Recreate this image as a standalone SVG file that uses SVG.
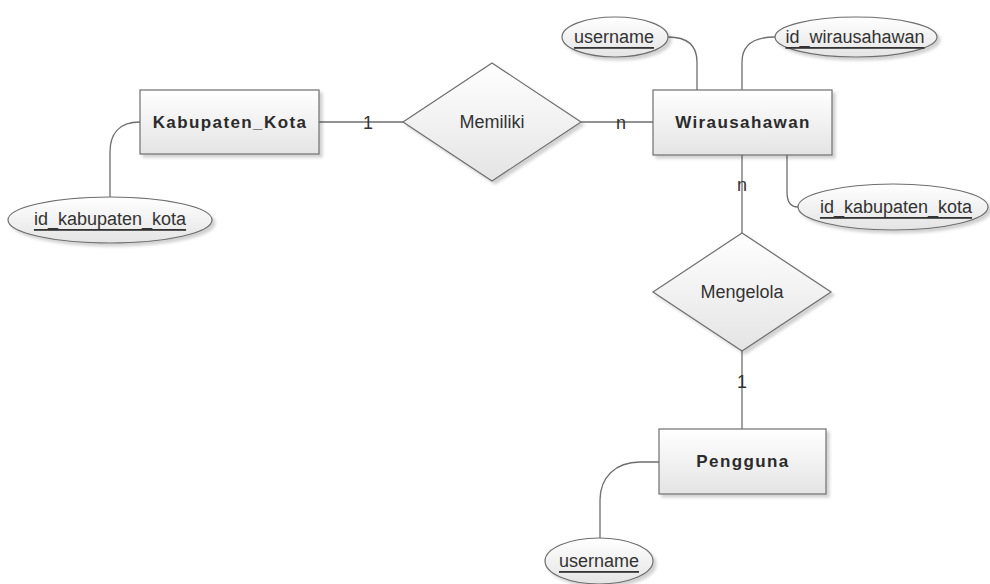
<svg xmlns="http://www.w3.org/2000/svg" width="990" height="584" viewBox="0 0 990 584">
<defs>
<linearGradient id="g" x1="0" y1="0" x2="0" y2="1">
<stop offset="0" stop-color="#ffffff"/>
<stop offset="1" stop-color="#e4e4e4"/>
</linearGradient>
<filter id="sh" x="-10%" y="-10%" width="125%" height="135%">
<feDropShadow dx="3" dy="3" stdDeviation="1.5" flood-color="#000" flood-opacity="0.18"/>
</filter>
</defs>
<style>
.shape{fill:url(#g);stroke:#6e6e6e;stroke-width:1.2;filter:url(#sh)}
.ent{font-family:"Liberation Sans",Arial,sans-serif;font-size:17px;font-weight:bold;letter-spacing:1.4px;fill:#2b2b2b;text-anchor:middle;dominant-baseline:central}
.rel{font-family:"Liberation Sans",Arial,sans-serif;font-size:18px;fill:#333;text-anchor:middle;dominant-baseline:central}
.att{font-family:"Liberation Sans",Arial,sans-serif;font-size:18px;fill:#333;text-anchor:middle;dominant-baseline:central;text-decoration:underline}
.card{font-family:"Liberation Sans",Arial,sans-serif;font-size:18px;fill:#333;text-anchor:middle;dominant-baseline:central}
.con{fill:none;stroke:#6e6e6e;stroke-width:1.3}
</style>
<rect width="990" height="584" fill="#ffffff"/>
<g id="connectors">
<path class="con" d="M319,122 L403,122"/>
<path class="con" d="M581,122 L653,122"/>
<path class="con" d="M742,155 L742,233"/>
<path class="con" d="M742,351 L742,429"/>
<path class="con" d="M140,122 C118,122 110,135 110,152 L110,197"/>
<path class="con" d="M668,37 C688,37 697,46 697,62 L697,90"/>
<path class="con" d="M775,37 C752,37 742,46 742,62 L742,90"/>
<path class="con" d="M787,155 L787,192 C787,201 790,207 798,207"/>
<path class="con" d="M659,462 L640,462 C615,462 600,478 600,500 L600,538"/>
<text class="card" x="368" y="123">1</text>
<text class="card" x="621" y="123">n</text>
<text class="card" x="742" y="185">n</text>
<text class="card" x="742" y="382">1</text>
</g>
<g id="kabupaten_kota">
<rect class="shape" x="140" y="90" width="179" height="64"/>
<text class="ent" x="230" y="122">Kabupaten_Kota</text>
</g>
<g id="wirausahawan">
<rect class="shape" x="653" y="90" width="179" height="65"/>
<text class="ent" x="743" y="122">Wirausahawan</text>
</g>
<g id="pengguna">
<rect class="shape" x="659" y="429" width="167" height="65"/>
<text class="ent" x="743" y="461">Pengguna</text>
</g>
<g id="memiliki">
<polygon class="shape" points="403,122 492,63 581,122 492,181"/>
<text class="rel" x="492" y="122">Memiliki</text>
</g>
<g id="mengelola">
<polygon class="shape" points="653,292 742,233 831,292 742,351"/>
<text class="rel" x="742" y="292">Mengelola</text>
</g>
<g id="attr_kab_id">
<ellipse class="shape" cx="110" cy="220" rx="102" ry="23"/>
<text class="att" x="110" y="219">id_kabupaten_kota</text>
</g>
<g id="attr_wira_username">
<ellipse class="shape" cx="615" cy="37" rx="53" ry="20"/>
<text class="att" x="614" y="37">username</text>
</g>
<g id="attr_wira_id">
<ellipse class="shape" cx="856" cy="37" rx="81" ry="20"/>
<text class="att" x="855" y="37">id_wirausahawan</text>
</g>
<g id="attr_wira_kab">
<ellipse class="shape" cx="893" cy="207" rx="95" ry="23"/>
<text class="att" x="896" y="207">id_kabupaten_kota</text>
</g>
<g id="attr_pengguna_username">
<ellipse class="shape" cx="599" cy="561" rx="54" ry="23"/>
<text class="att" x="599" y="561">username</text>
</g>
</svg>
